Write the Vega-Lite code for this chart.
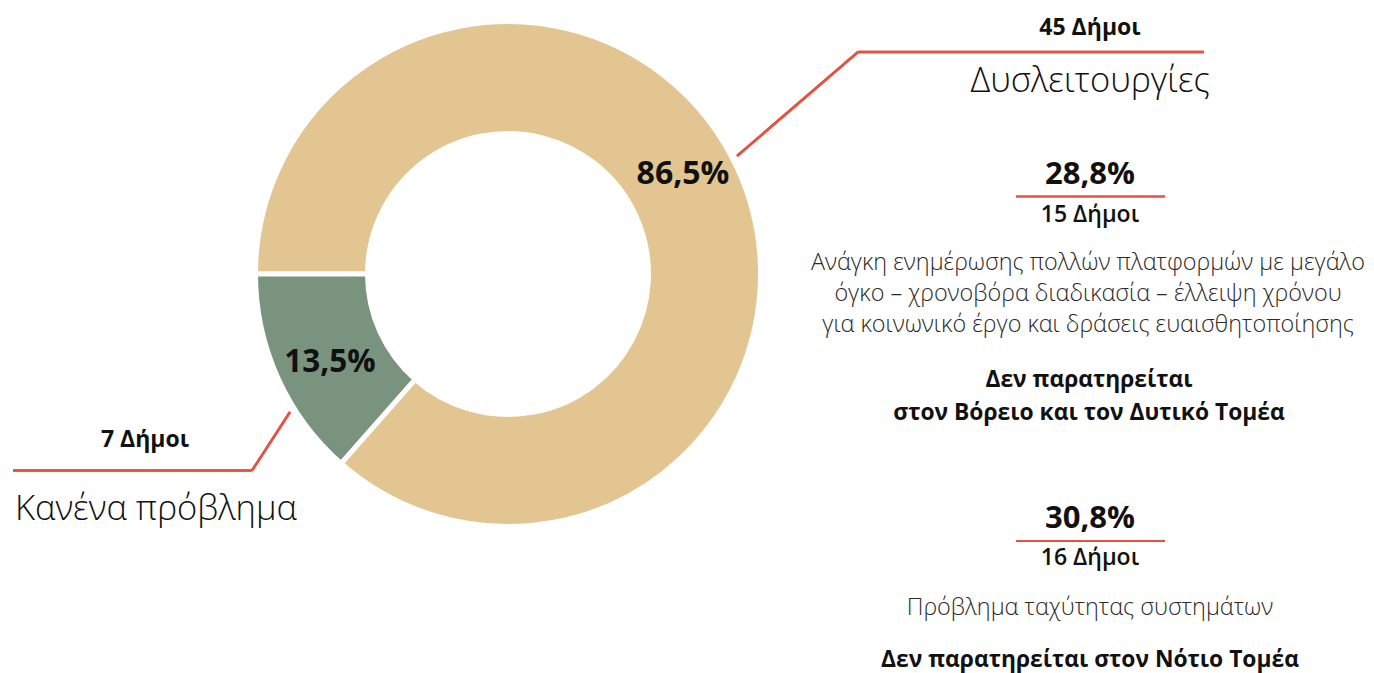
{
  "$schema": "https://vega.github.io/schema/vega-lite/v6.json",
  "width": 1374,
  "height": 673,
  "autosize": {"type": "fit", "contains": "padding"},
  "padding": 0,
  "background": "white",
  "config": {"view": {"stroke": null}, "font": "Open Sans"},
  "datasets": {
    "donut": [
      {"cat": "Δυσλειτουργίες", "pct": 86.5, "pctLabel": "86,5%", "dimoi": "45 Δήμοι"},
      {"cat": "Κανένα πρόβλημα", "pct": 13.5, "pctLabel": "13,5%", "dimoi": "7 Δήμοι"}
    ],
    "issues": [
      {"id": "a", "pctLabel": "28,8%", "dimoi": "15 Δήμοι", "desc": ["Ανάγκη ενημέρωσης πολλών πλατφορμών με μεγάλο", "όγκο – χρονοβόρα διαδικασία – έλλειψη χρόνου", "για κοινωνικό έργο και δράσεις ευαισθητοποίησης"], "note": ["Δεν παρατηρείται", "στον Βόρειο και τον Δυτικό Τομέα"]},
      {"id": "b", "pctLabel": "30,8%", "dimoi": "16 Δήμοι", "desc": ["Πρόβλημα ταχύτητας συστημάτων"], "note": ["Δεν παρατηρείται στον Νότιο Τομέα"]}
    ]
  },
  "data": {"name": "donut"},
  "encoding": {
    "x": {"type": "quantitative", "scale": {"domain": [0, 1374], "nice": false, "zero": false}, "axis": null},
    "y": {"type": "quantitative", "scale": {"domain": [0, 673], "nice": false, "zero": false, "reverse": true}, "axis": null}
  },
  "layer": [
    {
      "mark": {"type": "arc", "outerRadius": 252.5, "innerRadius": 140.5, "stroke": "white", "strokeWidth": 5},
      "encoding": {
        "x": {"datum": 508},
        "y": {"datum": 274},
        "theta": {"field": "pct", "type": "quantitative", "stack": true, "scale": {"range": [4.71238898, 10.99557429]}},
        "color": {"field": "cat", "type": "nominal", "scale": {"domain": ["Δυσλειτουργίες", "Κανένα πρόβλημα"], "range": ["#E3C591", "#7A937F"]}, "legend": null},
        "order": {"field": "pct", "sort": "descending"}
      }
    },
    {
      "transform": [{"filter": "datum.pct > 50"}],
      "mark": {"type": "text", "fontSize": 32, "fontWeight": "bold", "color": "#111", "align": "center", "baseline": "alphabetic"},
      "encoding": {"x": {"datum": 683}, "y": {"datum": 184}, "text": {"field": "pctLabel"}}
    },
    {
      "transform": [{"filter": "datum.pct < 50"}],
      "mark": {"type": "text", "fontSize": 31.5, "fontWeight": "bold", "color": "#111", "align": "center", "baseline": "alphabetic"},
      "encoding": {"x": {"datum": 330}, "y": {"datum": 372}, "text": {"field": "pctLabel"}}
    },
    {
      "transform": [{"filter": "datum.pct > 50"}],
      "mark": {"type": "text", "fontSize": 23, "fontWeight": "bold", "color": "#111", "align": "center", "baseline": "alphabetic"},
      "encoding": {"x": {"datum": 1090}, "y": {"datum": 35}, "text": {"field": "dimoi"}}
    },
    {
      "transform": [{"filter": "datum.pct > 50"}],
      "mark": {"type": "text", "fontSize": 34.5, "fontWeight": 300, "color": "#111", "align": "right", "baseline": "alphabetic"},
      "encoding": {"x": {"datum": 1210}, "y": {"datum": 92}, "text": {"field": "cat"}}
    },
    {
      "transform": [{"filter": "datum.pct < 50"}],
      "mark": {"type": "text", "fontSize": 23, "fontWeight": "bold", "color": "#111", "align": "center", "baseline": "alphabetic"},
      "encoding": {"x": {"datum": 145}, "y": {"datum": 447}, "text": {"field": "dimoi"}}
    },
    {
      "transform": [{"filter": "datum.pct < 50"}],
      "mark": {"type": "text", "fontSize": 34.5, "fontWeight": 300, "color": "#111", "align": "left", "baseline": "alphabetic"},
      "encoding": {"x": {"datum": 15}, "y": {"datum": 520}, "text": {"field": "cat"}}
    },
    {
      "mark": {"type": "rule", "color": "#E8513F", "strokeWidth": 2.5},
      "encoding": {"x": {"datum": 737}, "y": {"datum": 156}, "x2": {"datum": 858}, "y2": {"datum": 52}}
    },
    {
      "mark": {"type": "rule", "color": "#E8513F", "strokeWidth": 2.5},
      "encoding": {"x": {"datum": 858}, "y": {"datum": 52}, "x2": {"datum": 1204}, "y2": {"datum": 52}}
    },
    {
      "mark": {"type": "rule", "color": "#E8513F", "strokeWidth": 2.5},
      "encoding": {"x": {"datum": 290}, "y": {"datum": 412}, "x2": {"datum": 252}, "y2": {"datum": 470.5}}
    },
    {
      "mark": {"type": "rule", "color": "#E8513F", "strokeWidth": 2.5},
      "encoding": {"x": {"datum": 252}, "y": {"datum": 470.5}, "x2": {"datum": 13}, "y2": {"datum": 470.5}}
    },
    {
      "mark": {"type": "rule", "color": "#E8513F", "strokeWidth": 2},
      "encoding": {"x": {"datum": 1016}, "y": {"datum": 196.5}, "x2": {"datum": 1165}, "y2": {"datum": 196.5}}
    },
    {
      "mark": {"type": "rule", "color": "#E8513F", "strokeWidth": 2},
      "encoding": {"x": {"datum": 1016}, "y": {"datum": 541}, "x2": {"datum": 1165}, "y2": {"datum": 541}}
    },
    {
      "data": {"name": "issues"},
      "transform": [{"filter": "datum.id == 'a'"}],
      "layer": [
        {"mark": {"type": "text", "fontSize": 31, "fontWeight": "bold", "color": "#111", "align": "center", "baseline": "alphabetic"},
         "encoding": {"x": {"datum": 1090}, "y": {"datum": 184}, "text": {"field": "pctLabel"}}},
        {"mark": {"type": "text", "fontSize": 23, "fontWeight": 600, "color": "#111", "align": "center", "baseline": "alphabetic"},
         "encoding": {"x": {"datum": 1090}, "y": {"datum": 222}, "text": {"field": "dimoi"}}},
        {"mark": {"type": "text", "fontSize": 23.4, "fontWeight": 300, "color": "#2a2a2a", "align": "center", "baseline": "alphabetic", "lineHeight": 31},
         "encoding": {"x": {"datum": 1088}, "y": {"datum": 270}, "text": {"field": "desc"}}},
        {"mark": {"type": "text", "fontSize": 22.8, "fontWeight": "bold", "color": "#111", "align": "center", "baseline": "alphabetic", "lineHeight": 33},
         "encoding": {"x": {"datum": 1089}, "y": {"datum": 387}, "text": {"field": "note"}}}
      ]
    },
    {
      "data": {"name": "issues"},
      "transform": [{"filter": "datum.id == 'b'"}],
      "layer": [
        {"mark": {"type": "text", "fontSize": 31, "fontWeight": "bold", "color": "#111", "align": "center", "baseline": "alphabetic"},
         "encoding": {"x": {"datum": 1090}, "y": {"datum": 528}, "text": {"field": "pctLabel"}}},
        {"mark": {"type": "text", "fontSize": 23, "fontWeight": 600, "color": "#111", "align": "center", "baseline": "alphabetic"},
         "encoding": {"x": {"datum": 1090}, "y": {"datum": 565}, "text": {"field": "dimoi"}}},
        {"mark": {"type": "text", "fontSize": 23.4, "fontWeight": 300, "color": "#2a2a2a", "align": "center", "baseline": "alphabetic"},
         "encoding": {"x": {"datum": 1090}, "y": {"datum": 615}, "text": {"field": "desc"}}},
        {"mark": {"type": "text", "fontSize": 22.8, "fontWeight": "bold", "color": "#111", "align": "center", "baseline": "alphabetic"},
         "encoding": {"x": {"datum": 1090}, "y": {"datum": 667}, "text": {"field": "note"}}}
      ]
    }
  ]
}
